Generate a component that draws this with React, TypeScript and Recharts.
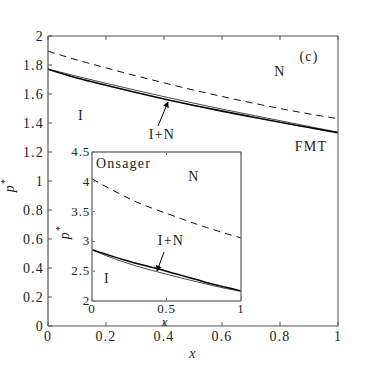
import React from 'react';
import { LineChart, Line, XAxis, YAxis } from 'recharts';

// composition x and reduced pressure p* on the phase boundaries
const xValues = [0, 0.1, 0.2, 0.3, 0.4, 0.5, 0.6, 0.7, 0.8, 0.9, 1];
const fmtDashed = [1.895, 1.835, 1.78, 1.727, 1.677, 1.628, 1.583, 1.54, 1.5, 1.463, 1.43];
const fmtUpper = [1.772, 1.722, 1.674, 1.627, 1.582, 1.538, 1.496, 1.456, 1.416, 1.376, 1.336];
const fmtLower = [1.77, 1.71, 1.66, 1.612, 1.566, 1.523, 1.482, 1.443, 1.405, 1.369, 1.333];

const onsDashed = [4.05, 3.91, 3.78, 3.66, 3.56, 3.47, 3.38, 3.29, 3.21, 3.13, 3.06];
const onsUpper = [2.86, 2.78, 2.7, 2.63, 2.565, 2.5, 2.43, 2.36, 2.29, 2.23, 2.17];
const onsLower = [2.86, 2.755, 2.665, 2.585, 2.515, 2.45, 2.385, 2.325, 2.265, 2.21, 2.16];

const mainXTicks = [0, 0.2, 0.4, 0.6, 0.8, 1];
const mainYTicks = [0, 0.2, 0.4, 0.6, 0.8, 1, 1.2, 1.4, 1.6, 1.8, 2];
const insetXTicks = [0, 0.5, 1];
const insetYTicks = [2, 2.5, 3, 3.5, 4, 4.5];

const mainData = xValues.map((x, i) => ({ x, dashed: fmtDashed[i], upper: fmtUpper[i], lower: fmtLower[i] }));
const insetData = xValues.map((x, i) => ({ x, dashed: onsDashed[i], upper: onsUpper[i], lower: onsLower[i] }));

const FONT = '"Liberation Serif", "Times New Roman", serif';
const TXT = '#222';
const MAIN_AXIS = '#555';
const INSET_AXIS = '#7a7a7a';

const textStyle = { fontFamily: FONT, fontSize: 14, fill: TXT, letterSpacing: 1.2 };
const smallStyle = { ...textStyle, fontSize: 13, letterSpacing: 0.8 };

// ticks point into the plot, labels sit outside
const leftTick = (len: number, gap: number, color: string, style: any, dy = '0.35em') => (p: any) => (
  <g>
    <line x1={p.x + gap} y1={p.y} x2={p.x + gap + len} y2={p.y} stroke={color} />
    <text x={p.x} y={p.y} dy={dy} textAnchor="end" style={style}>
      {p.payload.value}
    </text>
  </g>
);
const rightTick = (len: number, color: string) => (p: any) => (
  <line x1={p.x} y1={p.y} x2={p.x - len} y2={p.y} stroke={color} />
);
const bottomTick = (len: number, gap: number, color: string, style: any) => (p: any) => (
  <g>
    <line x1={p.x} y1={p.y - gap} x2={p.x} y2={p.y - gap - len} stroke={color} />
    <text x={p.x} y={p.y} dy="0.71em" textAnchor="middle" style={style}>
      {p.payload.value}
    </text>
  </g>
);
const topTick = (len: number, color: string) => (p: any) => (
  <line x1={p.x} y1={p.y} x2={p.x} y2={p.y + len} stroke={color} />
);

export default function App() {
  return (
    <div style={{ position: 'absolute', left: 0, top: 0, width: 374, height: 376, background: '#fff' }}>
      <div style={{ position: 'absolute', left: 0, top: 0 }}>
        <LineChart width={374} height={376} data={mainData} margin={{ top: 0, right: 0, bottom: 0, left: 0 }}>
          <XAxis xAxisId="b" dataKey="x" type="number" domain={[0, 1]} ticks={mainXTicks} interval={0}
            height={50} tickSize={0} tickMargin={5} tickLine={false} axisLine={{ stroke: MAIN_AXIS, strokeWidth: 1.2 }}
            tick={bottomTick(4, 5, MAIN_AXIS, textStyle)} />
          <XAxis xAxisId="t" orientation="top" dataKey="x" type="number" domain={[0, 1]} ticks={mainXTicks} interval={0}
            height={36} tickSize={0} tickMargin={0} tickLine={false} axisLine={{ stroke: MAIN_AXIS }}
            tick={topTick(4, MAIN_AXIS)} />
          <YAxis yAxisId="l" type="number" domain={[0, 2]} ticks={mainYTicks} interval={0}
            width={48} tickSize={0} tickMargin={4} tickLine={false} axisLine={{ stroke: MAIN_AXIS, strokeWidth: 1.2 }}
            tick={leftTick(4, 4, MAIN_AXIS, textStyle)} />
          <YAxis yAxisId="r" orientation="right" type="number" domain={[0, 2]} ticks={mainYTicks} interval={0}
            width={36} tickSize={0} tickMargin={0} tickLine={false} axisLine={{ stroke: MAIN_AXIS }}
            tick={rightTick(4, MAIN_AXIS)} />
          <Line xAxisId="b" yAxisId="l" dataKey="dashed" type="monotone" stroke="#111" strokeWidth={1}
            strokeDasharray="7 5" dot={false} isAnimationActive={false} />
          <Line xAxisId="b" yAxisId="l" dataKey="upper" type="monotone" stroke="#333" strokeWidth={0.9}
            dot={false} isAnimationActive={false} />
          <Line xAxisId="b" yAxisId="l" dataKey="lower" type="monotone" stroke="#000" strokeWidth={1.6}
            dot={false} isAnimationActive={false} />
        </LineChart>
      </div>

      <div style={{ position: 'absolute', left: 60, top: 140 }}>
        <LineChart width={200} height={190} data={insetData} margin={{ top: 0, right: 0, bottom: 0, left: 0 }}>
          <XAxis xAxisId="b" dataKey="x" type="number" domain={[0, 1]} ticks={insetXTicks} interval={0}
            height={29} tickSize={0} tickMargin={3} tickLine={false} axisLine={{ stroke: INSET_AXIS, strokeWidth: 1.5 }}
            tick={bottomTick(3, 3, INSET_AXIS, smallStyle)} />
          <XAxis xAxisId="t" orientation="top" dataKey="x" type="number" domain={[0, 1]} ticks={insetXTicks} interval={0}
            height={12} tickSize={0} tickMargin={0} tickLine={false} axisLine={{ stroke: INSET_AXIS, strokeWidth: 1.5 }}
            tick={topTick(3, INSET_AXIS)} />
          <YAxis yAxisId="l" type="number" domain={[2, 4.5]} ticks={insetYTicks} interval={0}
            width={32} tickSize={0} tickMargin={2} tickLine={false} axisLine={{ stroke: INSET_AXIS, strokeWidth: 1.5 }}
            tick={leftTick(3, 2, INSET_AXIS, smallStyle, '0.3em')} />
          <YAxis yAxisId="r" orientation="right" type="number" domain={[2, 4.5]} ticks={insetYTicks} interval={0}
            width={19} tickSize={0} tickMargin={0} tickLine={false} axisLine={{ stroke: INSET_AXIS, strokeWidth: 1.5 }}
            tick={rightTick(3, INSET_AXIS)} />
          <Line xAxisId="b" yAxisId="l" dataKey="dashed" type="monotone" stroke="#111" strokeWidth={1}
            strokeDasharray="7 5" dot={false} isAnimationActive={false} />
          <Line xAxisId="b" yAxisId="l" dataKey="lower" type="monotone" stroke="#333" strokeWidth={0.9}
            dot={false} isAnimationActive={false} />
          <Line xAxisId="b" yAxisId="l" dataKey="upper" type="monotone" stroke="#000" strokeWidth={1.5}
            dot={false} isAnimationActive={false} />
        </LineChart>
      </div>

      {/* annotations */}
      <svg width={374} height={376} style={{ position: 'absolute', left: 0, top: 0, pointerEvents: 'none' }}>
        <defs>
          <marker id="head" viewBox="0 0 10 10" refX="9" refY="5" markerWidth="6" markerHeight="7" orient="auto">
            <path d="M0,0 L10,5 L0,10 z" fill="#000" />
          </marker>
        </defs>
        <text x={309} y={61} textAnchor="middle" style={textStyle}>(c)</text>
        <text x={280} y={76} textAnchor="middle" style={textStyle}>N</text>
        <text x={81} y={120} textAnchor="middle" style={textStyle}>I</text>
        <text x={162} y={139} textAnchor="middle" style={textStyle}>I+N</text>
        <line x1={158} y1={126} x2={168} y2={102} stroke="#000" markerEnd="url(#head)" />
        <text x={311} y={151} textAnchor="middle" style={textStyle}>FMT</text>
        <text x={193} y={358} textAnchor="middle" style={{ ...textStyle, fontStyle: 'italic' }}>x</text>
        <text x={14} y={185} textAnchor="middle" transform="rotate(-90 14 185)" style={{ ...textStyle, fontStyle: 'italic' }}>
          p<tspan dy={-6} fontSize={10} fontStyle="normal">*</tspan>
        </text>

        <text x={96} y={168} style={textStyle}>Onsager</text>
        <text x={194} y={181} textAnchor="middle" style={textStyle}>N</text>
        <text x={171} y={245} textAnchor="middle" style={textStyle}>I+N</text>
        <line x1={164} y1={252} x2={157} y2={271} stroke="#000" markerEnd="url(#head)" />
        <text x={107} y={283} textAnchor="middle" style={textStyle}>I</text>
        <text x={165} y={326} textAnchor="middle" style={{ ...smallStyle, fontStyle: 'italic' }}>x</text>
        <text x={69} y={232} textAnchor="middle" transform="rotate(-90 69 232)" style={{ ...textStyle, fontStyle: 'italic' }}>
          p<tspan dy={-6} fontSize={10} fontStyle="normal">*</tspan>
        </text>
      </svg>
    </div>
  );
}
